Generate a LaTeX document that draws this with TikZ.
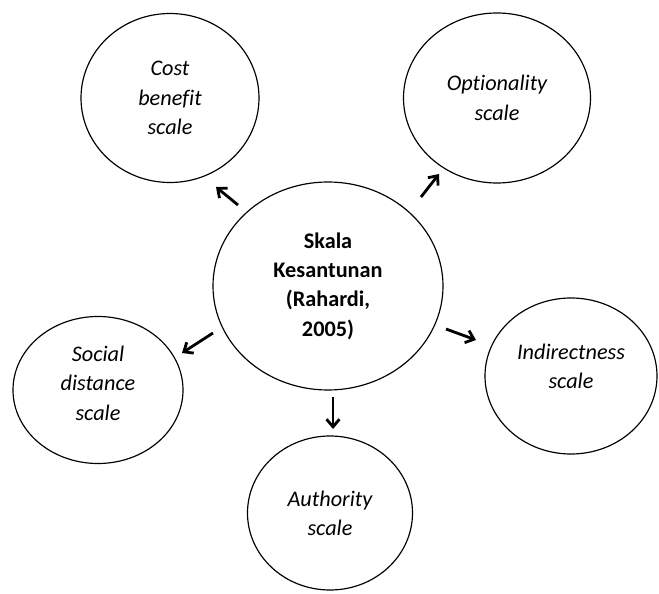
\documentclass[tikz,border=0pt]{standalone}
\usepackage{fontspec}
\setmainfont{Carlito}[Ligatures=NoCommon]
\usetikzlibrary{shapes.geometric,arrows.meta}

\begin{document}
\begin{tikzpicture}[x=0.03cm,y=-0.03cm,
  bubble/.style={draw,ellipse,line width=1pt,inner sep=0pt,align=center,
    font=\fontsize{19}{25}\selectfont\itshape},
  pointer/.style={line width=2.4pt,-{Straight Barb[length=6.5pt,width=11pt]}}]
  \useasboundingbox (0,0) rectangle (659,594);

  % centre: the politeness scales
  \node[bubble,minimum width=6.9cm,minimum height=6.24cm,font=\fontsize{19}{25}\selectfont\bfseries]
    (skala) at (328,286) {Skala\\Kesantunan\\(Rahardi,\\2005)};

  % the five scales round it
  \node[bubble,minimum width=5.34cm,minimum height=5.07cm] (cost) at (170,98) {Cost\\benefit\\scale};
  \node[bubble,minimum width=5.61cm,minimum height=5.1cm] (option) at (497,98) {Optionality\\scale};
  \node[bubble,minimum width=5.1cm,minimum height=4.41cm,text depth=0.42cm] (social) at (98,390) {Social\\distance\\scale};
  \node[bubble,minimum width=5.16cm,minimum height=4.68cm,text depth=0.6cm] (indirect) at (571,376) {Indirectness\\scale};
  \node[bubble,minimum width=4.95cm,minimum height=4.62cm] (authority) at (330,513) {Authority\\scale};

  % short arrows between the circles
  \coordinate (costtail) at (238,205);   \coordinate (costhead) at (216,187);
  \coordinate (opttail) at (421,197);    \coordinate (opthead) at (439,174);
  \coordinate (soctail) at (213,333);    \coordinate (sochead) at (182,353);
  \coordinate (indtail) at (446,329);    \coordinate (indhead) at (476,340);
  \coordinate (authtail) at (333,397);   \coordinate (authhead) at (333,429);
  \draw[pointer] (costtail) -- (costhead);
  \draw[pointer] (opttail) -- (opthead);
  \draw[pointer] (soctail) -- (sochead);
  \draw[pointer] (indtail) -- (indhead);
  \draw[pointer] (authtail) -- (authhead);
\end{tikzpicture}
\end{document}
